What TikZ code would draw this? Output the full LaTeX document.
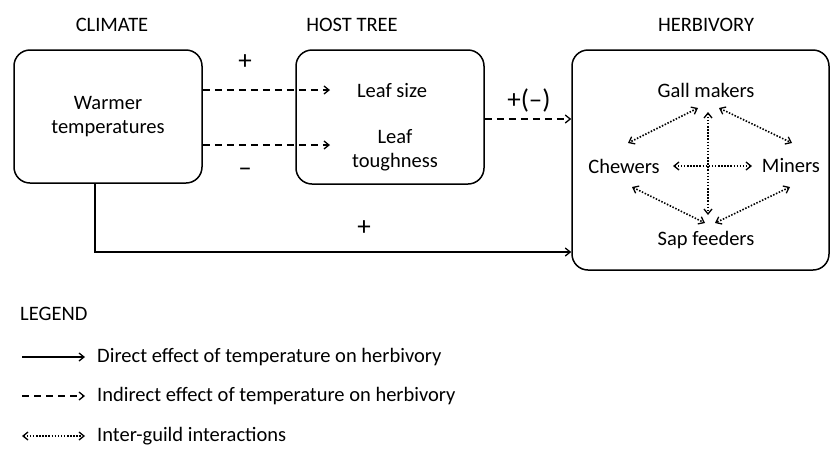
\documentclass[tikz,border=0pt]{standalone}
\usepackage{fontspec}
\setmainfont{Carlito}
\usetikzlibrary{arrows.meta}
\begin{document}
\begin{tikzpicture}[x=1pt,y=-1pt,
  font=\fontsize{20.5}{24}\selectfont,
  box/.style={draw, line width=1.5pt, rounded corners=16pt, align=center},
  lbl/.style={inner sep=0pt, align=center},
  sign/.style={inner sep=0pt, font=\fontsize{27}{30}\selectfont},
  tip/.style={-{Straight Barb[length=5pt,width=8pt,line width=1.3pt]}},
  solidarr/.style={tip, line width=1.4pt},
  dasharr/.style={tip, line width=1.4pt, dash pattern=on 7pt off 5pt},
  dotarr/.style={{Straight Barb[length=5pt,width=8pt,line width=1.3pt]}-{Straight Barb[length=5pt,width=8pt,line width=1.3pt]}, line width=1.6pt, dash pattern=on 1.5pt off 1.6pt}
]
\useasboundingbox (0,0) rectangle (831,475);

% headings
\node[lbl] (hclim) at (112,25) {CLIMATE};
\node[lbl] (hhost) at (352,25) {HOST TREE};
\node[lbl] (hherb) at (706,25) {HERBIVORY};

% boxes
\node[box, minimum width=188pt, minimum height=133pt] (clim) at (108,116.5) {Warmer\\temperatures};
\node[box, minimum width=188pt, minimum height=134pt] (host) at (390,117) {};
\node[box, minimum width=257pt, minimum height=220pt] (herb) at (700.5,160) {};

% host tree texts
\node[lbl] (lsize) at (392,91) {Leaf size};
\node[lbl] (ltough) at (395,150) {Leaf\\toughness};

% climate -> host
\coordinate (a1) at (330,90);
\coordinate (a2) at (330,145);
\draw[dasharr] (clim.east |- a1) -- (a1);
\draw[dasharr] (clim.east |- a2) -- (a2);
\node[sign] (plus1) at (245,62) {+};
\node[sign] (minus1) at (245,172) {\textendash};

% host -> herbivory
\draw[dasharr] (host.east |- 0,119) -- (herb.west |- 0,119);
\node[sign] (pm) at (529,100) {+(\textendash)};

% direct
\coordinate (corner) at (95,252);
\draw[solidarr] (clim.south -| corner) -- (corner) -- (herb.west |- corner);
\node[sign] (plus2) at (364,228) {+};

% herbivory guilds
\node[lbl] (gall) at (706,90) {Gall makers};
\node[lbl] (chew) at (624,166) {Chewers};
\node[lbl] (mine) at (791,166) {Miners};
\node[lbl] (sap) at (706,240) {Sap feeders};

\coordinate (g1) at (698,108); \coordinate (c1) at (628,143);
\coordinate (g2) at (719,108); \coordinate (m1) at (792,143);
\coordinate (g3) at (708,112); \coordinate (s3) at (708,215);
\coordinate (c2) at (673,166); \coordinate (m2) at (752,166);
\coordinate (c3) at (632,187); \coordinate (s1) at (705,223);
\coordinate (m3) at (790,187); \coordinate (s2) at (715,223);
\draw[dotarr] (g1) -- (c1);
\draw[dotarr] (g2) -- (m1);
\draw[dotarr] (g3) -- (s3);
\draw[dotarr] (c2) -- (m2);
\draw[dotarr] (c3) -- (s1);
\draw[dotarr] (m3) -- (s2);

% legend
\node[lbl, anchor=west] (leg) at (20,314) {LEGEND};
\coordinate (l1a) at (22,357); \coordinate (l1b) at (85,357);
\coordinate (l2a) at (22,396); \coordinate (l2b) at (85,396);
\coordinate (l3a) at (22,436); \coordinate (l3b) at (85,436);
\draw[solidarr] (l1a) -- (l1b);
\draw[dasharr] (l2a) -- (l2b);
\draw[dotarr] (l3a) -- (l3b);
\node[lbl, anchor=west] (t1) at (97,357) {Direct effect of temperature on herbivory};
\node[lbl, anchor=west] (t2) at (97,396) {Indirect effect of temperature on herbivory};
\node[lbl, anchor=west] (t3) at (97,436) {Inter-guild interactions};
\end{tikzpicture}
\end{document}
